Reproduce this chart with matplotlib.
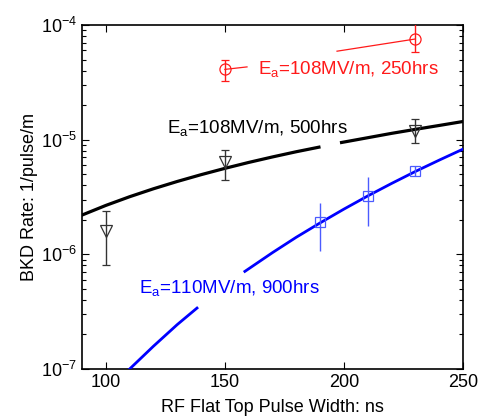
import numpy as np
import matplotlib
matplotlib.use("Agg")
import matplotlib.pyplot as plt

plt.rcParams["font.family"] = ["Liberation Sans", "DejaVu Sans"]
plt.rcParams["mathtext.fontset"] = "custom"
plt.rcParams["mathtext.rm"] = "Liberation Sans"
plt.rcParams["mathtext.it"] = "Liberation Sans:italic"
plt.rcParams["mathtext.default"] = "regular"

# measured points (pulse width ns, breakdown rate 1/pulse/m)
red_x = [150, 230]
red_y = [4.1e-5, 7.55e-5]
red_lo = [3.27e-5, 5.85e-5]
red_hi = [5.0e-5, 1.05e-4]

blk_x = [100, 150, 230]
blk_y = [1.61e-6, 6.4e-6, 1.2e-5]
blk_lo = [8.0e-7, 4.46e-6, 9.4e-6]
blk_hi = [2.4e-6, 8.2e-6, 1.5e-5]

blu_x = [190, 210, 230]
blu_y = [1.93e-6, 3.23e-6, 5.33e-6]
blu_lo = [1.07e-6, 1.78e-6, 4.83e-6]
blu_hi = [2.82e-6, 4.75e-6, 5.9e-6]

# fit curves (nan = gap in the drawn line)
blk_fit_x = [90, 100, 110, 120, 130, 140, 150, 160, 170, 180, 189.5, np.nan,
             199, 210, 220, 230, 240, 250]
blk_fit_y = [2.2e-6, 2.67e-6, 3.18e-6, 3.73e-6, 4.32e-6, 4.95e-6, 5.62e-6,
             6.33e-6, 7.07e-6, 7.85e-6, 8.6e-6, np.nan,
             9.45e-6, 1.04e-5, 1.135e-5, 1.23e-5, 1.33e-5, 1.44e-5]

blu_fit_x = [110, 120, 130, 138.3, np.nan, 158.4, 170, 180, 190, 200, 210,
             220, 230, 240, 250]
blu_fit_y = [1.0e-7, 1.58e-7, 2.44e-7, 3.4e-7, np.nan, 7.1e-7, 1.035e-6,
             1.41e-6, 1.88e-6, 2.48e-6, 3.23e-6, 4.15e-6, 5.28e-6, 6.63e-6,
             8.27e-6]

red_line_x = [150, 159.3, np.nan, 197.1, 230]
red_line_y = [4.1e-5, 4.31e-5, np.nan, 5.91e-5, 7.55e-5]

labels = [r"E$_\mathregular{a}$=108MV/m, 250hrs",
          r"E$_\mathregular{a}$=108MV/m, 500hrs",
          r"E$_\mathregular{a}$=110MV/m, 900hrs"]

RED = "#FF1A1A"
BLUE = "#0000FF"
LBLUE = "#4B5BFF"

fig = plt.figure(figsize=(4.84, 4.18), dpi=100, facecolor="white")
ax = fig.add_axes([0.1694, 0.1172, 0.7872, 0.823])
ax.set_yscale("log")

ax.plot(blk_fit_x, blk_fit_y, color="black", lw=2.3, zorder=3)
ax.plot(blu_fit_x, blu_fit_y, color=BLUE, lw=2.0, zorder=3)
ax.plot(red_line_x, red_line_y, color=RED, lw=0.9, zorder=3)


def errs(y, lo, hi):
    y = np.array(y)
    return [y - np.array(lo), np.array(hi) - y]


ax.errorbar(red_x, red_y, yerr=errs(red_y, red_lo, red_hi), fmt="o", ms=8,
            mfc="none", mec=RED, ecolor=RED, elinewidth=1, capsize=3,
            mew=0.9, zorder=4)
ax.errorbar(blk_x, blk_y, yerr=errs(blk_y, blk_lo, blk_hi), fmt="v", ms=9,
            mfc="none", mec="#333333", ecolor="#333333", elinewidth=1,
            capsize=3, mew=0.9, zorder=4)
ax.errorbar(blu_x, blu_y, yerr=errs(blu_y, blu_lo, blu_hi), fmt="s", ms=7.5,
            mfc="none", mec=LBLUE, ecolor=LBLUE, elinewidth=1, capsize=0,
            mew=0.9, zorder=4)

ax.text(163.9, 3.74e-5, labels[0], color=RED, fontsize=13.5, va="baseline")
ax.text(125.7, 1.137e-5, labels[1], color="black", fontsize=13.5, va="baseline")
ax.text(113.9, 4.63e-7, labels[2], color=BLUE, fontsize=13.5, va="baseline")

ax.set_xlim(90, 250)
ax.set_ylim(1e-7, 1e-4)
ax.set_xticks([100, 150, 200, 250])
ax.set_xlabel("RF Flat Top Pulse Width: ns", fontsize=13, labelpad=6)
ax.set_ylabel("BKD Rate: 1/pulse/m", fontsize=13, labelpad=2)
ax.tick_params(which="both", direction="in", top=True, right=True,
               labelsize=13, width=0.8)
ax.tick_params(which="major", length=5)
ax.tick_params(which="minor", length=3)
ax.tick_params(axis="x", which="minor", top=False, bottom=False)
for sp in ax.spines.values():
    sp.set_linewidth(1.2)

fig.savefig("out.png", dpi=100, facecolor="white")
